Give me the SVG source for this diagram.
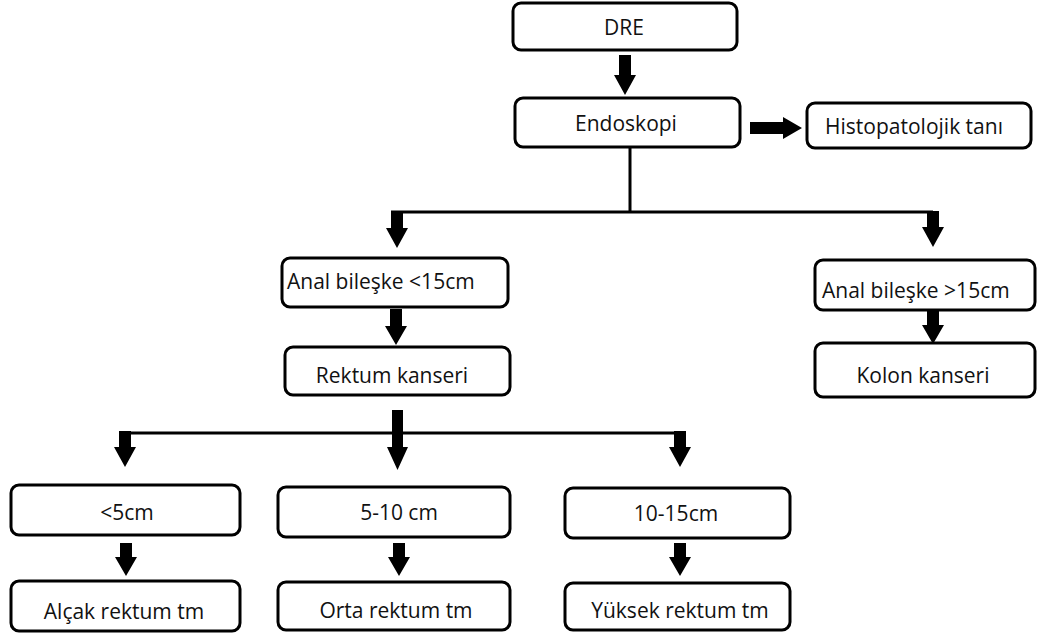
<svg xmlns="http://www.w3.org/2000/svg" width="1041" height="641" viewBox="0 0 1041 641">
<style>
.box{fill:#fff;stroke:#000;stroke-width:3}
.t{font-family:"Open Sans","Noto Sans",sans-serif;font-size:21px;fill:#111}
.c{text-anchor:middle}
.ln{fill:none;stroke:#000;stroke-width:3}
.ar{fill:#000}
</style>
<rect width="1041" height="641" fill="#fff"/>
<g id="connectors">
<polyline class="ln" points="630,147 630,212"/>
<polyline class="ln" points="391,212 933,212"/>
<polyline class="ln" points="119,433 680,433"/>
<polygon class="ar" points="619,55 631,55 631,75 636,75 625,95 614,75 619,75"/>
<polygon class="ar" points="750,122 783,122 783,117 802,128 783,139 783,134 750,134"/>
<polygon class="ar" points="391,211 403,211 403,228 408,228 397,248 386,228 391,228"/>
<polygon class="ar" points="927,211 939,211 939,227 944,227 933,247 922,227 927,227"/>
<polygon class="ar" points="390,309 402,309 402,326 407,326 396,345 385,326 390,326"/>
<polygon class="ar" points="927,311 939,311 939,325 944,325 933,344 922,325 927,325"/>
<polygon class="ar" points="392,410 403,410 403,447 408,447 397.5,470 387,447 392,447"/>
<polygon class="ar" points="119,431 131,431 131,447 136,447 125,467 114,447 119,447"/>
<polygon class="ar" points="674,431 686,431 686,447 691,447 680,467 669,447 674,447"/>
<polygon class="ar" points="120,543 132,543 132,557 137,557 126,576 115,557 120,557"/>
<polygon class="ar" points="393,543 405,543 405,557 410,557 399,576 388,557 393,557"/>
<polygon class="ar" points="674,543 686,543 686,557 691,557 680,576 669,557 674,557"/>
</g>
<g id="n-dre"><rect class="box" x="513" y="3" width="224" height="47" rx="8"/><text class="t c" x="624" y="35">DRE</text></g>
<g id="n-endoskopi"><rect class="box" x="515" y="98" width="225" height="49" rx="8"/><text class="t c" x="626" y="131">Endoskopi</text></g>
<g id="n-histo"><rect class="box" x="807" y="103" width="224" height="45" rx="8"/><text class="t c" x="914" y="134">Histopatolojik tanı</text></g>
<g id="n-anal-lt"><rect class="box" x="282" y="258" width="226" height="49" rx="8"/><text class="t" x="287" y="289">Anal bileşke &lt;15cm</text></g>
<g id="n-rektum"><rect class="box" x="285" y="347" width="225" height="48" rx="8"/><text class="t c" x="392" y="383">Rektum kanseri</text></g>
<g id="n-anal-gt"><rect class="box" x="815" y="260" width="220" height="50" rx="8"/><text class="t" x="822" y="298">Anal bileşke &gt;15cm</text></g>
<g id="n-kolon"><rect class="box" x="815" y="343" width="220" height="54" rx="8"/><text class="t c" x="923" y="383">Kolon kanseri</text></g>
<g id="n-lt5"><rect class="box" x="11" y="485" width="229" height="50" rx="8"/><text class="t c" x="127" y="520">&lt;5cm</text></g>
<g id="n-5-10"><rect class="box" x="278" y="487" width="232" height="50" rx="8"/><text class="t c" x="399" y="520">5-10 cm</text></g>
<g id="n-10-15"><rect class="box" x="565" y="488" width="225" height="50" rx="8"/><text class="t c" x="676" y="521">10-15cm</text></g>
<g id="n-alcak"><rect class="box" x="11" y="581" width="229" height="50" rx="8"/><text class="t c" x="124" y="619">Alçak rektum tm</text></g>
<g id="n-orta"><rect class="box" x="278" y="582" width="232" height="48" rx="8"/><text class="t c" x="396" y="618">Orta rektum tm</text></g>
<g id="n-yuksek"><rect class="box" x="565" y="583" width="225" height="47" rx="8"/><text class="t c" x="680" y="618">Yüksek rektum tm</text></g>
</svg>
